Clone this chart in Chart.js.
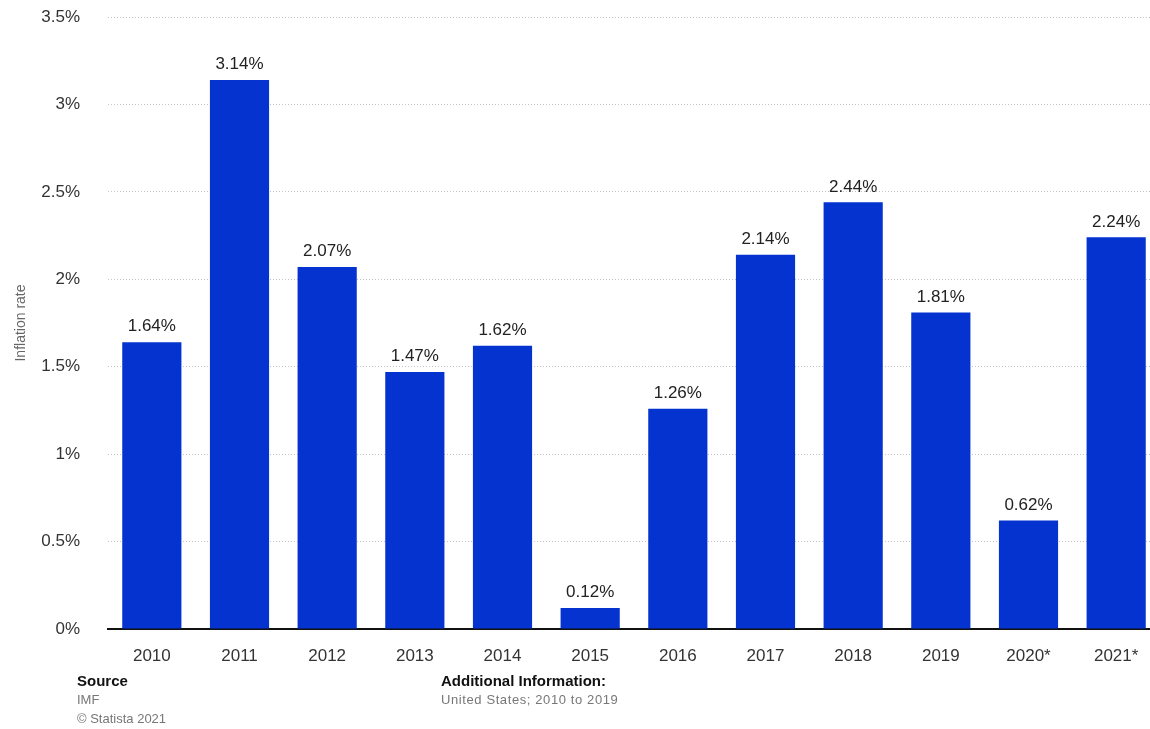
<!DOCTYPE html>
<html>
<head>
<meta charset="utf-8">
<script src="https://cdn.jsdelivr.net/npm/chart.js@4/dist/chart.umd.min.js"></script>
<style>
  html, body { margin: 0; padding: 0; background: #fff; overflow: hidden; }
  #wrap { position: relative; width: 1150px; height: 729px; overflow: hidden; }
  #chart { position: absolute; left: 0; top: 0; }
  .foot { position: absolute; font-family: "Liberation Sans", Arial, sans-serif; line-height: 19px; }
  .foot b { display: block; color: #111; font-size: 15px; }
  .foot span { display: block; color: #777; font-size: 13px; }
</style>
</head>
<body>
<div id="wrap">
  <canvas id="chart" width="1160" height="729"></canvas>
  <div class="foot" style="left:77px; top:671px;">
    <b>Source</b>
    <span>IMF</span>
    <span>© Statista 2021</span>
  </div>
  <div class="foot" style="left:441px; top:671px;">
    <b>Additional Information:</b>
    <span style="letter-spacing:0.6px;">United States; 2010 to 2019</span>
  </div>
</div>
<script>
'use strict'

const years = ['2010', '2011', '2012', '2013', '2014', '2015', '2016', '2017', '2018', '2019', '2020*', '2021*'];
const inflation = [1.64, 3.14, 2.07, 1.47, 1.62, 0.12, 1.26, 2.14, 2.44, 1.81, 0.62, 2.24];
const yTicks = [0, 0.5, 1, 1.5, 2, 2.5, 3, 3.5];

const FONT = '"Liberation Sans", Arial, sans-serif';

// writes the value above each bar
const valueLabels = {
    id: 'valueLabels',
    afterDatasetsDraw(chart) {
        const ctx = chart.ctx;
        const meta = chart.getDatasetMeta(0);
        ctx.save();
        ctx.font = '17px ' + FONT;
        ctx.fillStyle = '#222';
        ctx.textAlign = 'center';
        ctx.textBaseline = 'bottom';
        meta.data.forEach((bar, i) => {
            ctx.fillText(inflation[i].toFixed(2) + '%', bar.x, bar.y - 7);
        });
        ctx.restore();
    }
};

new Chart(document.getElementById('chart'), {
    type: 'bar',
    data: {
        labels: years,
        datasets: [
            {
                data: inflation,
                backgroundColor: '#0433d0',
                barPercentage: 0.675,
                categoryPercentage: 1
            }
        ]
    },
    options: {
        responsive: false,
        animation: false,
        events: [],
        layout: { padding: { top: 17, right: 0, left: 0, bottom: 0 } },
        plugins: {
            legend: { display: false },
            tooltip: { enabled: false }
        },
        scales: {
            x: {
                grid: { display: false, drawTicks: false },
                border: { display: true, color: '#111', width: 2 },
                ticks: {
                    color: '#333',
                    padding: 17,
                    maxRotation: 0,
                    font: { family: FONT, size: 17 }
                },
                afterFit(scale) { scale.height = 100; }
            },
            y: {
                min: 0,
                max: 3.5,
                afterBuildTicks(scale) {
                    scale.ticks = yTicks.map(v => ({ value: v }));
                },
                grid: { color: '#c4c4c4', lineWidth: 1, drawTicks: false },
                border: { display: false, dash: [1, 2] },
                ticks: {
                    color: '#333',
                    padding: 28,
                    font: { family: FONT, size: 17 },
                    callback: v => v + '%'
                },
                title: {
                    display: true,
                    text: 'Inflation rate',
                    color: '#666',
                    padding: { top: 13, bottom: 0 },
                    font: { family: FONT, size: 14 }
                },
                afterFit(scale) {
                    scale.width = 108;
                    // keep the tick padding from pushing the plot top down
                    scale.paddingTop = 0;
                    scale.paddingBottom = 0;
                }
            }
        }
    },
    plugins: [valueLabels]
});
</script>
</body>
</html>
